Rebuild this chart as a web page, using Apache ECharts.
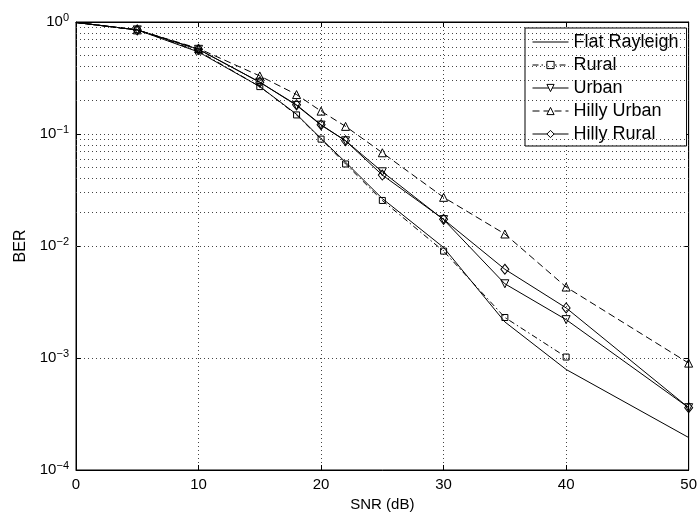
<!DOCTYPE html>
<html>
<head>
<meta charset="utf-8">
<script src="https://cdn.jsdelivr.net/npm/echarts@6/dist/echarts.min.js"></script>
<style>html,body{margin:0;padding:0;background:#fff}#c{width:700px;height:518px}</style>
</head>
<body>
<div id="c"></div>
<script>
// SNR points (dB)
var snr = [0, 5, 10, 15, 18, 20, 22, 25, 30, 35, 40, 50];
var snrRural = [0, 5, 10, 15, 18, 20, 22, 25, 30, 35, 40];
// BER values
var flatRayleigh = [0.99, 0.85, 0.54, 0.265, 0.15, 0.091, 0.056, 0.0265, 0.0097, 0.0021, 0.00079, 0.000195];
var rural        = [0.99, 0.85, 0.55, 0.265, 0.148, 0.09, 0.054, 0.0255, 0.009, 0.0023, 0.00102];
var urban        = [0.99, 0.85, 0.57, 0.29, 0.18, 0.12, 0.087, 0.046, 0.0172, 0.0046, 0.0022, 0.00036];
var hillyUrban   = [0.99, 0.85, 0.58, 0.33, 0.225, 0.16, 0.117, 0.068, 0.0272, 0.0128, 0.0043, 0.0009];
var hillyRural   = [0.99, 0.85, 0.57, 0.29, 0.182, 0.121, 0.087, 0.043, 0.0173, 0.0062, 0.0028, 0.00036];
var seriesNames = ['Flat Rayleigh', 'Rural', 'Urban', 'Hilly Urban', 'Hilly Rural'];
var xTicks = [0, 10, 20, 30, 40, 50];
var yDecades = [-4, -3, -2, -1, 0];

var FONT = 'Liberation Sans, Arial, Helvetica, sans-serif';

function pts(xs, ys, hideFirst) {
  return xs.map(function (x, i) {
    var d = { value: [x, ys[i]] };
    if (hideFirst && x === 0) d.symbol = 'none';
    return d;
  });
}

// minor log grid positions (2..9 per decade)
var minor = [];
for (var k = -4; k < 0; k++) {
  for (var m = 2; m <= 9; m++) minor.push({ yAxis: m * Math.pow(10, k) });
}

var hollow = { color: 'rgba(0,0,0,0)', borderColor: '#000', borderWidth: 1 };

var legendData = seriesNames.map(function (n) {
  if (n === 'Flat Rayleigh') return { name: n, icon: 'path://M0,0H36V1H0Z', itemStyle: { color: '#000', borderWidth: 0 } };
  return { name: n };
});

var chart = echarts.init(document.getElementById('c'), null, { renderer: 'canvas' });
chart.setOption({
  animation: false,
  backgroundColor: '#fff',
  textStyle: { fontFamily: FONT, color: '#000' },
  grid: { left: 76, right: 10, top: 22, bottom: 48, show: true, borderColor: '#000', borderWidth: 1, backgroundColor: 'transparent' },
  legend: {
    orient: 'vertical', left: 525, top: 28,
    padding: [5, 8, 3, 7],
    itemWidth: 36, itemHeight: 9, itemGap: 5,
    symbolKeepAspect: true,
    backgroundColor: '#fff', borderColor: '#000', borderWidth: 1,
    lineStyle: { width: 1 },
    itemStyle: { color: '#fff', borderColor: '#000', borderWidth: 1 },
    textStyle: { fontSize: 18, fontFamily: FONT, color: '#000' },
    data: legendData
  },
  xAxis: [{
    type: 'value', min: 0, max: 50, interval: 10,
    name: 'SNR (dB)', nameLocation: 'middle', nameGap: 25,
    nameTextStyle: { fontSize: 15, color: '#000', fontFamily: FONT },
    axisLine: { show: true, onZero: false, lineStyle: { color: '#000', width: 1 } },
    axisTick: { show: true, inside: true, length: 5, lineStyle: { color: '#000' } },
    axisLabel: { fontSize: 15, color: '#000', margin: 7, fontFamily: FONT,
      formatter: function (v) { return xTicks.indexOf(v) >= 0 ? String(v) : ''; } },
    splitLine: { show: true, lineStyle: { color: '#444', type: [1, 3], width: 1 } }
  }, {
    type: 'value', min: 0, max: 50, interval: 10, position: 'top',
    axisLine: { show: true, onZero: false, lineStyle: { color: '#000' } },
    axisTick: { show: true, inside: true, length: 5, lineStyle: { color: '#000' } },
    axisLabel: { show: false }, splitLine: { show: false }
  }],
  yAxis: [{
    type: 'log', logBase: 10, min: 1e-4, max: 1,
    name: 'BER', nameLocation: 'middle', nameGap: 44,
    nameTextStyle: { fontSize: 16, color: '#000', fontFamily: FONT },
    axisLine: { show: true, onZero: false, lineStyle: { color: '#000', width: 1 } },
    axisTick: { show: true, inside: true, length: 5, lineStyle: { color: '#000' } },
    axisLabel: {
      color: '#000', margin: 7, fontFamily: FONT,
      formatter: function (v) {
        var e = Math.round(Math.log10(v));
        if (yDecades.indexOf(e) < 0) return '';
        return '{b|10}{s|' + (e < 0 ? '\u2212' + (-e) : e) + '}';
      },
      rich: {
        b: { fontSize: 15, fontFamily: FONT, color: '#000' },
        s: { fontSize: 11, fontFamily: FONT, color: '#000', padding: [0, 0, 9, 0] }
      }
    },
    splitLine: { show: true, lineStyle: { color: '#444', type: [1, 3], width: 1 } }
  }, {
    type: 'log', logBase: 10, min: 1e-4, max: 1, position: 'right',
    axisLine: { show: true, onZero: false, lineStyle: { color: '#000' } },
    axisTick: { show: true, inside: true, length: 5, lineStyle: { color: '#000' } },
    axisLabel: { show: false }, splitLine: { show: false }
  }],
  series: [{
    name: '__minorgrid', type: 'line', data: [], silent: true,
    markLine: {
      silent: true, symbol: ['none', 'none'], animation: false,
      label: { show: false },
      lineStyle: { color: '#444', type: [1, 3], width: 1 },
      emphasis: { disabled: true },
      data: minor
    }
  }, {
    name: 'Flat Rayleigh', type: 'line', symbol: 'none',
    lineStyle: { color: '#000', width: 1, type: 'solid' },
    itemStyle: { color: '#000' },
    data: pts(snr, flatRayleigh, false)
  }, {
    name: 'Rural', type: 'line', symbol: 'rect', symbolSize: 6, showAllSymbol: true,
    lineStyle: { color: '#000', width: 1, type: [6, 3, 1.5, 3] },
    itemStyle: hollow,
    data: pts(snrRural, rural, true)
  }, {
    name: 'Urban', type: 'line', symbol: 'triangle', symbolSize: 8, symbolRotate: 180, showAllSymbol: true,
    lineStyle: { color: '#000', width: 1, type: 'solid' },
    itemStyle: hollow,
    data: pts(snr, urban, true)
  }, {
    name: 'Hilly Urban', type: 'line', symbol: 'triangle', symbolSize: 8, showAllSymbol: true,
    lineStyle: { color: '#000', width: 1, type: [7, 4] },
    itemStyle: hollow,
    data: pts(snr, hillyUrban, true)
  }, {
    name: 'Hilly Rural', type: 'line', symbol: 'diamond', symbolSize: [8, 10], showAllSymbol: true,
    lineStyle: { color: '#000', width: 1, type: 'solid' },
    itemStyle: hollow,
    data: pts(snr, hillyRural, true)
  }]
});
</script>
</body>
</html>
